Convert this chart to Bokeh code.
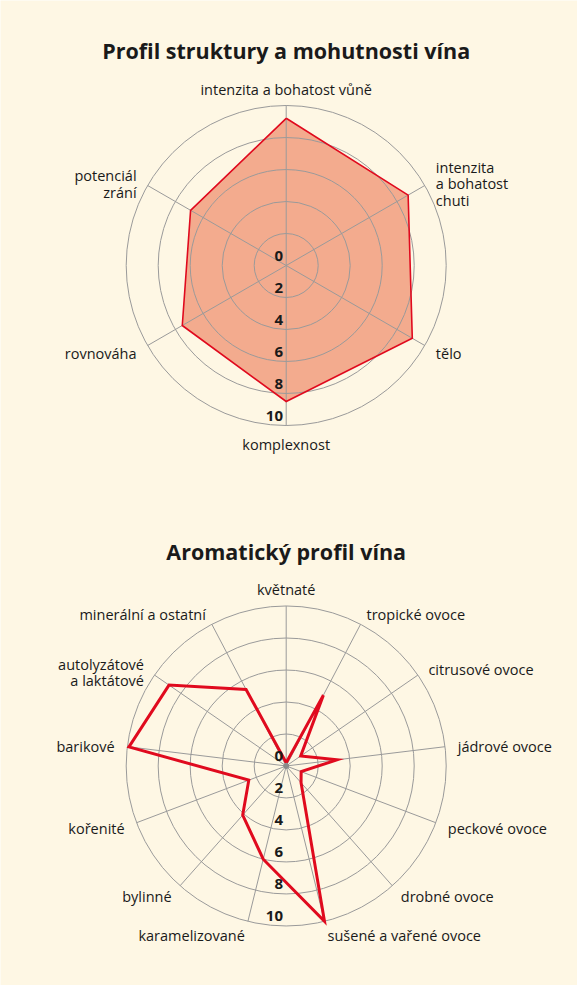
import math

from bokeh.plotting import figure
from bokeh.models import Range1d
from bokeh.core.properties import value
from bokeh.embed import file_html
from bokeh.resources import INLINE

# --- data ---
structure_labels = ["intenzita a bohatost vůně", "intenzita\na bohatost\nchuti", "tělo",
                    "komplexnost", "rovnováha", "potenciál\nzrání"]
structure_values = [9.2, 8.8, 9.1, 8.5, 7.5, 6.9]

aroma_labels = ["květnaté", "tropické ovoce", "citrusové ovoce", "jádrové ovoce",
                "peckové ovoce", "drobné ovoce", "sušené a vařené ovoce", "karamelizované",
                "bylinné", "kořenité", "barikové", "autolyzátové\na laktátové",
                "minerální a ostatní"]
aroma_values = [0.2, 5.0, 1.1, 3.2, 1.0, 1.4, 10.0, 6.0, 4.1, 2.5, 9.9, 8.9, 5.4]

ring_values = [2, 4, 6, 8, 10]
tick_labels = ["0", "2", "4", "6", "8", "10"]

BG = "#fef7e4"
FONT = "Open Sans"
INK = "#1a1a1a"
GRID = "#9a9a9a"
RMAX = 10

# 16 px per score unit, chart 1 centred at the origin
p = figure(width=577, height=985, output_backend="svg", toolbar_location=None,
           x_range=Range1d(-17.856, 18.206), y_range=Range1d(-45.0, 16.5625),
           min_border=0)
p.axis.visible = False
p.xgrid.visible = False
p.ygrid.visible = False
p.outline_line_color = None
p.background_fill_color = BG
p.border_fill_color = BG


def spokes(n):
    return [2 * math.pi * i / n for i in range(n)]


def radar(cx, cy, labels, values, title, title_y, filled, lw):
    angs = spokes(len(values))
    xs = [cx + v * math.sin(a) for v, a in zip(values, angs)]
    ys = [cy + v * math.cos(a) for v, a in zip(values, angs)]
    if filled:
        p.patch(xs, ys, fill_color="#f3ab8e", line_color=None)
    # rings
    p.circle([cx] * len(ring_values), [cy] * len(ring_values), radius=ring_values,
             fill_color=None, line_color=GRID, line_width=1)
    # spokes
    p.segment([cx] * len(angs), [cy] * len(angs),
              [cx + RMAX * math.sin(a) for a in angs],
              [cy + RMAX * math.cos(a) for a in angs],
              line_color=GRID, line_width=1)
    p.line(xs + xs[:1], ys + ys[:1], line_color="#e00a1e", line_width=lw,
           line_join="miter")
    if not filled:
        p.scatter([cx], [cy], size=5, color="#8a8a8a")

    # axis labels
    for lab, a in zip(labels, angs):
        s, c = math.sin(a), math.cos(a)
        pad = 1.1 if abs(s) < 0.05 else 0.8
        align = "left" if s > 0.05 else ("right" if s < -0.05 else "center")
        shift = 0.3 if "\n" in lab else 0.1
        p.text([cx + (RMAX + pad) * s], [cy + (RMAX + pad) * c - shift], text=[lab],
               text_align=align, text_baseline="middle", text_font=value(FONT),
               text_font_size="14.5px", text_color=INK, text_line_height=0.88)

    # tick labels
    p.text([cx - 0.2] * len(tick_labels),
           [cy - float(t) + 0.625 for t in tick_labels], text=tick_labels,
           text_align="right", text_baseline="middle", text_font=value(FONT),
           text_font_size="15px", text_font_style="bold", text_color=INK)

    p.text([cx], [title_y], text=[title], text_align="center", text_baseline="middle",
           text_font=value(FONT), text_font_size="21.5px", text_font_style="bold",
           text_color=INK)


radar(0, 0, structure_labels, structure_values, "Profil struktury a mohutnosti vína",
      13.44, True, 1.6)
radar(0, -31.28, aroma_labels, aroma_values, "Aromatický profil vína", -17.875, False, 3)

open("out.html", "w").write(file_html(p, INLINE))
